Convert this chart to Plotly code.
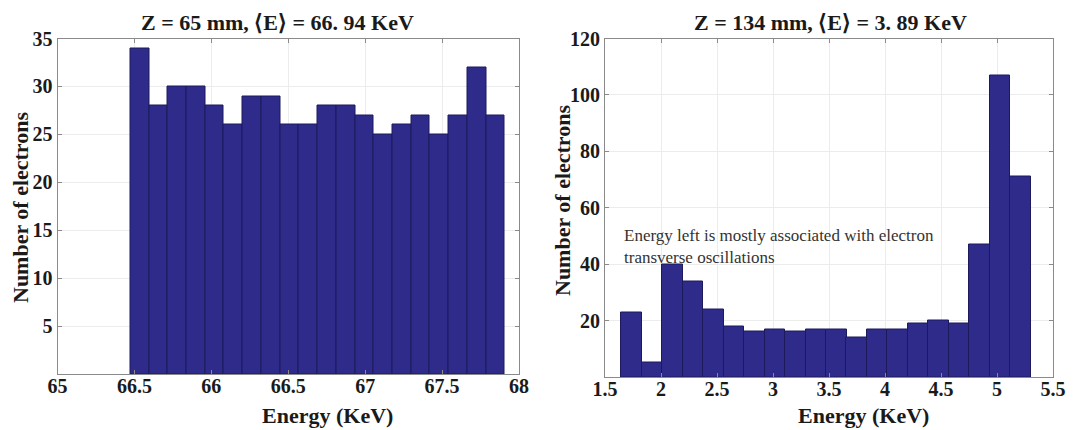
import plotly.graph_objects as go

# page body has an 8px default margin: the figure starts 8px in from the window corner
PAGE_W, PAGE_H, BODY = 1074, 430, 8
FW, FH = PAGE_W - BODY, PAGE_H - BODY

# ---------------- data ----------------
left_centers = [65.534, 65.656, 65.778, 65.899, 66.021, 66.143, 66.265, 66.386, 66.508, 66.630,
                66.752, 66.873, 66.995, 67.117, 67.239, 67.360, 67.482, 67.604, 67.726, 67.847]
left_counts = [34, 28, 30, 30, 28, 26, 29, 29, 26, 26, 28, 28, 27, 25, 26, 27, 25, 27, 32, 27]
left_bin_width = 0.1218

right_centers = [1.738, 1.920, 2.103, 2.286, 2.468, 2.651, 2.834, 3.016, 3.199, 3.382,
                 3.565, 3.747, 3.930, 4.113, 4.295, 4.478, 4.661, 4.843, 5.026, 5.209]
right_counts = [23, 5, 40, 34, 24, 18, 16, 17, 16, 17, 17, 14, 17, 17, 19, 20, 19, 47, 107, 71]
right_bin_width = 0.1827

left_xticks = [65, 65.5, 66, 66.5, 67, 67.5, 68]
left_xticktext = ["65", "66.5", "66", "66.5", "67", "67.5", "68"]
left_yticks = [5, 10, 15, 20, 25, 30, 35]
right_xticks = [1.5, 2, 2.5, 3, 3.5, 4, 4.5, 5, 5.5]
right_xticktext = ["1.5", "2", "2.5", "3", "3.5", "4", "4.5", "5", "5.5"]
right_yticks = [20, 40, 60, 80, 100, 120]

left_title = "Z = 65 mm, \u27e8E\u27e9 = 66. 94 KeV"
right_title = "Z = 134 mm, \u27e8E\u27e9 = 3. 89 KeV"
x_label = "Energy (KeV)"
y_label = "Number of electrons"
note = "Energy left is mostly associated with electron<br>transverse oscillations"

# ---------------- style ----------------
BAR = "#2f2b8a"
EDGE = "#1d1a5c"
SERIF = "Liberation Serif"
TXT = "#1a1a1a"


def px(x):
    return (x - BODY) / FW


def py(y):
    return 1 - (y - BODY) / FH


fig = go.Figure()
fig.add_trace(go.Bar(x=left_centers, y=left_counts, width=left_bin_width,
                     marker=dict(color=BAR, line=dict(color=EDGE, width=1)),
                     xaxis="x", yaxis="y", showlegend=False))
fig.add_trace(go.Bar(x=right_centers, y=right_counts, width=right_bin_width,
                     marker=dict(color=BAR, line=dict(color=EDGE, width=1)),
                     xaxis="x2", yaxis="y2", showlegend=False))

tickfont = dict(family=SERIF, size=20, color=TXT, weight="bold")
common = dict(showline=True, linecolor="#8a8a8a", linewidth=1, mirror="ticks",
              ticks="inside", ticklen=4, tickcolor="#8a8a8a",
              showgrid=True, gridcolor="#ececec", gridwidth=1,
              zeroline=False, tickfont=tickfont, automargin=False)

fig.update_layout(
    width=FW, height=FH,
    margin=dict(l=0, r=0, t=0, b=0, pad=0, autoexpand=False),
    paper_bgcolor="white", plot_bgcolor="white",
    bargap=0,
    xaxis=dict(domain=[px(57.5), px(519)], range=[65, 68], anchor="y",
               tickmode="array", tickvals=left_xticks, ticktext=left_xticktext,
               ticklabelstandoff=-6, **common),
    yaxis=dict(domain=[py(374), py(38.5)], range=[0, 35], anchor="x",
               tickmode="array", tickvals=left_yticks, **common),
    xaxis2=dict(domain=[px(605), px(1053)], range=[1.5, 5.5], anchor="y2",
                tickmode="array", tickvals=right_xticks, ticktext=right_xticktext,
                ticklabelstandoff=-6, **common),
    yaxis2=dict(domain=[py(377), py(38.5)], range=[0, 120], anchor="x2",
                tickmode="array", tickvals=right_yticks, **common),
)

bold = dict(family=SERIF, size=22, color=TXT, weight="bold")
ann = [
    dict(text=left_title, x=px(277), y=py(22), font=bold),
    dict(text=right_title, x=px(830), y=py(22), font=bold),
    dict(text=x_label, x=px(327), y=py(415), font=bold),
    dict(text=x_label, x=px(863), y=py(415), font=bold),
    dict(text=y_label, x=px(20), y=py(208), font=bold, textangle=-90),
    dict(text=y_label, x=px(562), y=py(201), font=bold, textangle=-90),
]
for a in ann:
    fig.add_annotation(xref="paper", yref="paper", showarrow=False,
                       xanchor="center", yanchor="middle", **a)

fig.add_annotation(xref="paper", yref="paper", showarrow=False,
                   x=px(622), y=py(246.5), xanchor="left", yanchor="middle", align="left",
                   text=note, font=dict(family=SERIF, size=17, color="#333333"))

fig.write_html("out.html")
